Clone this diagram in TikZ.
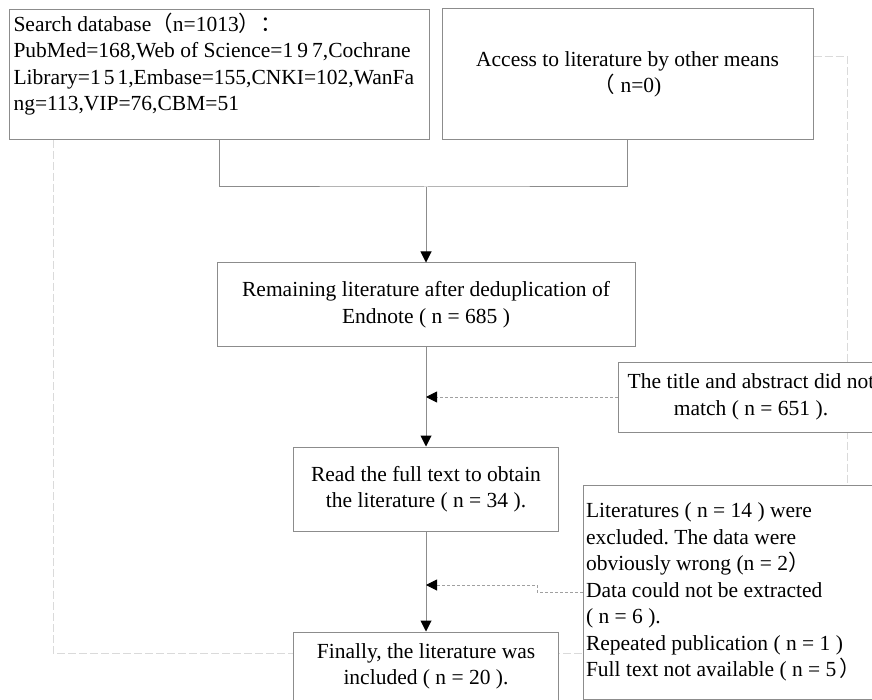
\documentclass[tikz,border=0pt]{standalone}
\usepackage{fontspec}
\setmainfont{Liberation Serif}
\newfontfamily\cjk{Noto Sans CJK SC}
\usetikzlibrary{arrows.meta,backgrounds}
\definecolor{edge}{HTML}{8C8C8C}
\definecolor{dashc}{HTML}{A0A0A0}
\definecolor{faint}{HTML}{DADADA}
\newcommand\boxfont{\fontsize{21.5}{26.5}\selectfont}
\newcommand\fw[1]{{\cjk #1}}
\frenchspacing

\begin{document}
\begin{tikzpicture}[
    x=1pt, y=-1pt,
    box/.style={draw=edge, line width=1pt, fill=white, font=\boxfont, inner sep=3pt, align=center},
    leftbox/.style={box, align=left, execute at begin node={\spaceskip=0pt\xspaceskip=0pt\relax}},
    flow/.style={draw=edge, line width=1pt, -{Triangle[length=11pt, width=11pt, color=black]}},
    side/.style={draw=dashc, line width=1pt, dash pattern=on 3pt off 2pt, -{Triangle[length=11pt, width=11pt, color=black]}},
    guide/.style={draw=faint, line width=1pt, dash pattern=on 8pt off 3pt}
]
\useasboundingbox (0,0) rectangle (872,700);

% Sources
\node[leftbox, anchor=north west, text width=412pt, inner xsep=4pt,
      text height=19pt, text depth=105pt] (search) at (9,9)
    {Search database\fw{（}n=1013\fw{）：}\\
     PubMed=168,Web of Science=1\kern4pt9\kern4pt7,Cochrane\\
     Library=1\kern3pt5\kern3pt1,Embase=155,CNKI=102,WanFa\\
     ng=113,VIP=76,CBM=51};
\node[box, minimum width=371pt, minimum height=131pt] (other) at (627.5,74.5)
    {Access to literature by other means\\\fw{（} n=0)};

% Main column
\node[box, minimum width=418pt, minimum height=83pt] (remain) at (426,304.5)
    {Remaining literature after deduplication of\\Endnote ( n = 685 )};
\node[box, minimum width=265pt, minimum height=84pt] (read) at (426,489)
    {Read the full text to obtain\\the literature ( n = 34 ).};
\node[box, minimum width=265pt, minimum height=69pt] (final) at (426,666.5)
    {Finally, the literature was\\included ( n = 20 ).};

% Exclusions
\node[box, minimum width=266pt, minimum height=70pt] (title) at (751,397)
    {The title and abstract did not\\match ( n = 651 ).};
\node[leftbox, minimum width=297pt, minimum height=214pt, text width=291pt] (excl) at (731.5,592)
    {Literatures ( n = 14 ) were\\
     excluded. The data were\\
     obviously wrong (n = 2\fw{）}\\
     Data could not be extracted\\
     ( n = 6 ).\\
     Repeated publication ( n = 1 )\\
     Full text not available ( n = 5\kern3pt\fw{）}};

% Connectors
\coordinate (join) at (426,187);
\coordinate (kink) at (537,585);
\draw[draw=edge, line width=1pt] ([xshift=210pt]search.south west) |- (join) -| (other.south);
\draw[flow] (join) -- (remain.north);
\draw[flow] (remain.south) -- (read.north);
\draw[flow] (read.south) -- (final.north);
\draw[side] (title.west) -- (title.west -| remain.south);
\draw[side] (excl.west) -| (kink) -- (kink -| read.south);

% Faint guides
\coordinate (gL) at (53,653);
\coordinate (gR) at (847,57);
\begin{scope}[on background layer]
\draw[guide] (search.south west -| gL) -- (gL) -- (gL -| excl.west);
\draw[guide] (other.east |- gR) -- (gR) -- (gR |- excl.north);
\end{scope}

\end{tikzpicture}
\end{document}
